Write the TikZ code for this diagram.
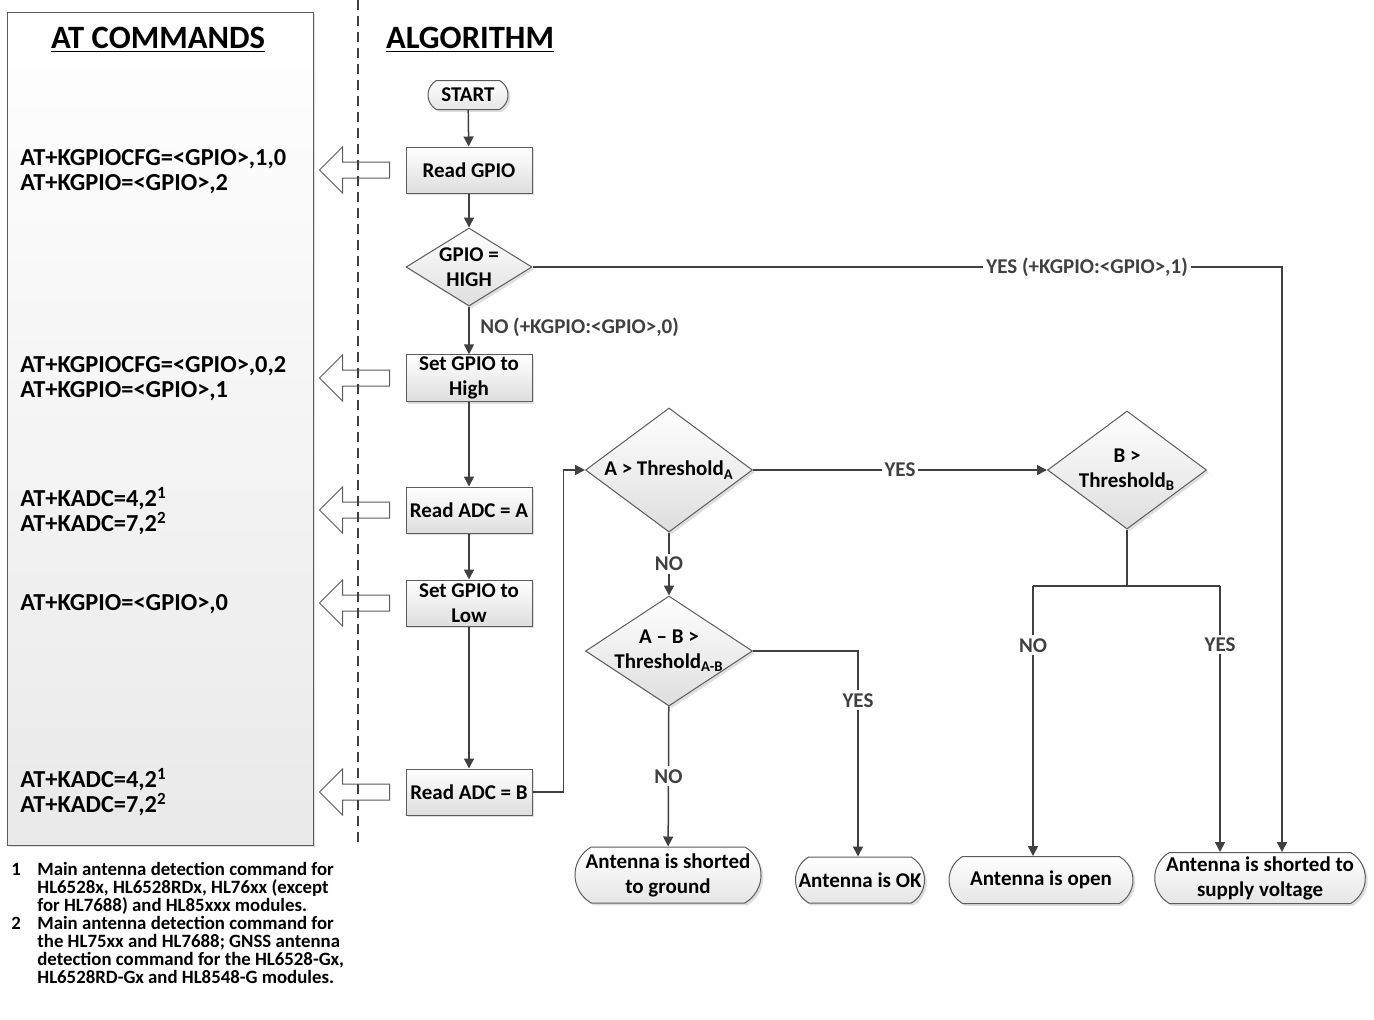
\documentclass[tikz,border=0pt]{standalone}
\usepackage{fontspec}
\setmainfont{Carlito}
\usepackage{tikz}
\usetikzlibrary{arrows.meta,calc,positioning,shapes.geometric,shapes.misc,shadows}
\definecolor{linegray}{HTML}{404040}
\definecolor{edgegray}{HTML}{5C5C5C}
\tikzset{
  every node/.style={font=\bfseries\fontsize{10.5}{12.5}\selectfont},
  softshadow/.style={drop shadow={shadow xshift=1.2pt, shadow yshift=-1.2pt, opacity=0.25}},
  panel/.style={draw=edgegray, line width=0.5pt, top color=white, bottom color=gray!17, softshadow},
  procbox/.style={draw=edgegray, line width=0.5pt, top color=white, bottom color=gray!26, softshadow, minimum width=63pt, minimum height=23pt, inner sep=1pt, align=center},
  decision/.style={draw=edgegray, line width=0.5pt, diamond, top color=white, bottom color=gray!26, softshadow, inner sep=0pt},
  dtext/.style={align=center, inner sep=0pt},
  terminal/.style={draw=edgegray, line width=0.5pt, rounded rectangle, rounded rectangle arc length=120, top color=white, bottom color=gray!20, softshadow, inner sep=1pt, align=center},
  flow/.style={-{Triangle[length=5pt,width=5pt]}, linegray, line width=0.75pt},
  link/.style={linegray, line width=0.75pt},
  lab/.style={fill=white, inner sep=1.5pt},
  cmd/.style={align=left, anchor=west, inner sep=0pt, font=\bfseries\fontsize{12.2}{12.5}\selectfont},
  heading/.style={font=\bfseries\fontsize{16.3}{18}\selectfont, inner sep=0pt},
  fnote/.style={align=left, anchor=north west, inner sep=0pt, font=\bfseries\fontsize{9.4}{9}\selectfont},
  fnum/.style={anchor=west, inner sep=0pt, font=\bfseries\fontsize{9.4}{9}\selectfont},
  divider/.style={linegray, line width=1pt, dash pattern=on 5pt off 3pt},
  cmdarrow/.pic={
    \draw[edgegray, fill=white, line width=0.5pt] (0,-8) -- (-47,-8) -- (-47,-23) -- (-70,0) -- (-47,23) -- (-47,8) -- (0,8) -- cycle;
  }
}

\begin{document}
\begin{tikzpicture}[x=0.5pt, y=-0.5pt]
  \useasboundingbox (0,0) rectangle (1374,1019);

  % left column
  \node[panel, minimum width=153pt, minimum height=416.5pt] (atpanel) at (160,428.5) {};
  \node[heading] (attitle) at (158,40) {\underline{AT COMMANDS}};
  \node[heading] (algtitle) at (470,40) {\underline{ALGORITHM}};

  % flow on the right
  \node[terminal, minimum width=40pt, minimum height=14.5pt, inner sep=0pt] (start) at (468,95) {START};
  \node[procbox] (rgpio) at (469,170) {Read GPIO};
  \node[decision, minimum width=63pt, minimum height=39pt, label={[dtext]center:{GPIO =\\HIGH}}] (gpio) at (469,267) {};
  \node[procbox] (shigh) at (469,378) {Set GPIO to\\High};
  \node[procbox] (adca) at (469,510) {Read ADC = A};
  \node[procbox] (slow) at (469,603) {Set GPIO to\\Low};
  \node[procbox] (adcb) at (469,792) {Read ADC = B};

  \node[decision, minimum width=83.5pt, minimum height=62pt, label={[dtext]center:{A > Threshold\textsubscript{A}}}] (tha) at (669,470) {};
  \node[decision, minimum width=83.5pt, minimum height=55pt, label={[dtext]center:{A -- B >\\Threshold\textsubscript{A-B}}}] (thab) at (669,651) {};
  \node[decision, minimum width=79.5pt, minimum height=59pt, label={[dtext]center:{B >\\Threshold\textsubscript{B}}}] (thb) at (1127,470) {};

  \node[terminal, minimum width=95pt, minimum height=28pt] (gnd) at (668,875) {Antenna is shorted\\to ground};
  \node[terminal, minimum width=63pt, minimum height=23pt] (ok) at (860,880) {Antenna is OK};
  \node[terminal, minimum width=94pt, minimum height=23.5pt] (open) at (1041,880) {Antenna is open};
  \node[terminal, minimum width=102pt, minimum height=25.5pt] (supply) at (1260,878) {Antenna is shorted to\\supply voltage};

  % commands
  \node[cmd] (c1) at (20,172) {AT+KGPIOCFG=<GPIO>,1,0\\AT+KGPIO=<GPIO>,2};
  \node[cmd] (c2) at (20,379) {AT+KGPIOCFG=<GPIO>,0,2\\AT+KGPIO=<GPIO>,1};
  \node[cmd] (c3) at (20,511) {AT+KADC=4,2\textsuperscript{1}\\AT+KADC=7,2\textsuperscript{2}};
  \node[cmd] (c4) at (20,604) {AT+KGPIO=<GPIO>,0};
  \node[cmd] (c5) at (20,792) {AT+KADC=4,2\textsuperscript{1}\\AT+KADC=7,2\textsuperscript{2}};

  \foreach \b in {rgpio,shigh,adca,slow,adcb}
    \pic at ($(\b.west)+(-16,0)$) {cmdarrow};
  \draw[divider] (358,0) -- (358,847);

  % footnotes
  \node[fnote] (fn1) at (37,862) {Main antenna detection command for\\HL6528x, HL6528RDx, HL76xx (except\\for HL7688) and HL85xxx modules.};
  \node[fnote] (fn2) at (37,916) {Main antenna detection command for\\the HL75xx and HL7688; GNSS antenna\\detection command for the HL6528-Gx,\\HL6528RD-Gx and HL8548-G modules.};
  \node[fnum] (fn1num) at (11,869) {1};
  \node[fnum] (fn2num) at (11,923) {2};

  % connectors
  \draw[flow] (start) -- (rgpio);
  \draw[flow] (rgpio) -- (gpio);
  \draw[flow] (gpio) -- node[right, xshift=2pt, pos=0.43] {NO (+KGPIO:<GPIO>,0)} (shigh);
  \draw[flow] (shigh) -- (adca);
  \draw[flow] (adca) -- (slow);
  \draw[flow] (slow) -- (adcb);
  \draw[flow] (adcb.east) -- ++(31,0) |- (tha);
  \draw[flow] (tha) -- node[lab] {NO} (thab);
  \draw[flow] (tha) -- node[lab] {YES} (thb);
  \draw[flow] (thab.east) -| node[lab, pos=0.62] {YES} ([xshift=-1pt]ok.north);
  \draw[flow] (thab) -- node[lab] {NO} (gnd);
  \coordinate (brl) at (1033,586);
  \coordinate (brr) at (1220,586);
  \draw[link] (thb.south) -- (thb.south |- brl);
  \draw[link] (brl) -- (brr);
  \draw[flow] (brl) -- node[lab, pos=0.22] {NO} (brl |- open.north);
  \draw[flow] (brr) -- node[lab, pos=0.22] {YES} (brr |- supply.north);
  \draw[flow] (gpio.east) -| node[lab, pos=0.37] {YES (+KGPIO:<GPIO>,1)} ([xshift=11pt]supply.north);
\end{tikzpicture}
\end{document}
